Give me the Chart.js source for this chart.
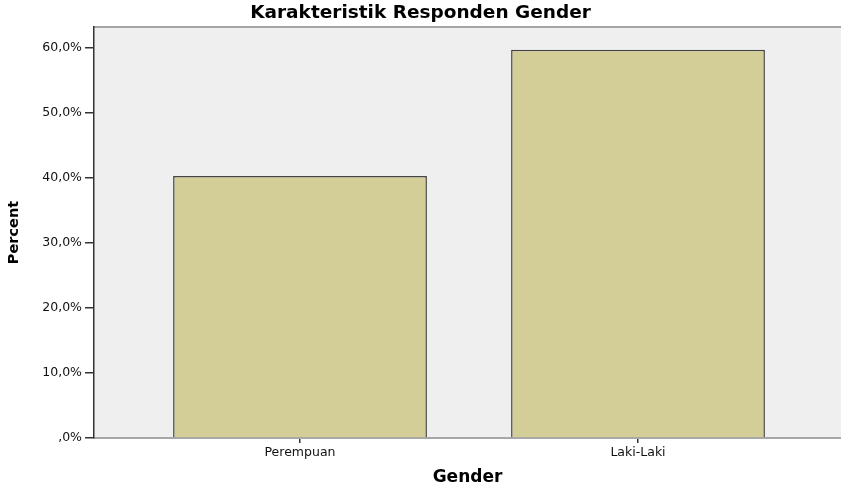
<!DOCTYPE html>
<html>
<head>
<meta charset="utf-8">
<script src="https://cdn.jsdelivr.net/npm/chart.js@4"></script>
<style>
  html, body { margin: 0; padding: 0; background: #ffffff; }
  #wrap { width: 841px; height: 487px; }
</style>
</head>
<body>
<div id="wrap"><canvas id="c" width="841" height="487"></canvas></div>
<script>
const chartTitle = 'Karakteristik Responden Gender';
const categories = ['Perempuan', 'Laki-Laki'];
const percentValues = [40.3, 59.7];
const yTickValues = [0, 10, 20, 30, 40, 50, 60];
const xAxisTitle = 'Gender';
const yAxisTitle = 'Percent';

function fmtPct(v) {
  if (v === 0) return ',0%';
  return v.toFixed(1).replace('.', ',') + '%';
}

const plotBg = {
  id: 'plotBg',
  beforeDraw(chart) {
    const { ctx, chartArea: a } = chart;
    ctx.save();
    ctx.fillStyle = '#efefef';
    ctx.fillRect(a.left, a.top, a.right - a.left, a.bottom - a.top);
    ctx.strokeStyle = '#a6a6a6';
    ctx.lineWidth = 2;
    ctx.beginPath();
    ctx.moveTo(a.left, a.top);
    ctx.lineTo(a.right, a.top);
    ctx.stroke();
    ctx.restore();
  }
};

new Chart(document.getElementById('c'), {
  type: 'bar',
  data: {
    datasets: [{
      label: yAxisTitle,
      data: categories.map((c, i) => ({ x: i, y: percentValues[i] })),
      backgroundColor: '#d3ce97',
      borderColor: '#454545',
      borderWidth: 1.5,
      categoryPercentage: 1,
      barPercentage: 0.751
    }]
  },
  options: {
    responsive: false,
    animation: false,
    layout: { padding: { left: 0, right: 0, top: 0, bottom: 0 } },
    plugins: {
      legend: { display: false },
      tooltip: { enabled: false },
      title: {
        display: true,
        text: chartTitle,
        color: '#000',
        font: { family: 'DejaVu Sans', size: 18.5, weight: 'bold', lineHeight: 1.15 },
        padding: { top: 3, bottom: 2.7 }
      }
    },
    scales: {
      x: {
        type: 'linear',
        min: -0.6095,
        max: 1.6006,
        offset: false,
        afterBuildTicks(scale) { scale.ticks = categories.map((c, i) => ({ value: i })); },
        afterFit(scale) { scale.height = 49; },
        ticks: {
          autoSkip: false, maxRotation: 0, minRotation: 0,
          padding: 2,
          color: '#111',
          font: { family: 'DejaVu Sans', size: 12.5 },
          callback: (v) => categories[v]
        },
        grid: { drawOnChartArea: false, drawTicks: true, tickLength: 5, color: '#333', lineWidth: 1.5, offset: false },
        border: { display: true, color: '#a8a8a8', width: 2 },
        title: {
          display: true, text: xAxisTitle, color: '#000',
          font: { family: 'DejaVu Sans', size: 17, weight: 'bold', lineHeight: 1.1 },
          padding: { top: 0, bottom: 0 }
        }
      },
      y: {
        min: 0,
        max: 63.2,
        afterBuildTicks(scale) { scale.ticks = yTickValues.map(v => ({ value: v })); },
        afterFit(scale) { scale.width = 94; },
        ticks: {
          padding: 3,
          color: '#111',
          font: { family: 'DejaVu Sans', size: 12.5 },
          callback: (v) => fmtPct(v)
        },
        grid: { drawOnChartArea: false, drawTicks: true, tickLength: 9, color: '#333', lineWidth: 1.5 },
        border: { display: true, color: '#333', width: 1.5 },
        title: {
          display: true, text: yAxisTitle, color: '#000',
          font: { family: 'DejaVu Sans', size: 14.5, weight: 'bold', lineHeight: 1.2 },
          padding: { top: 6, bottom: 0 }
        }
      }
    }
  },
  plugins: [plotBg]
});
</script>
</body>
</html>
